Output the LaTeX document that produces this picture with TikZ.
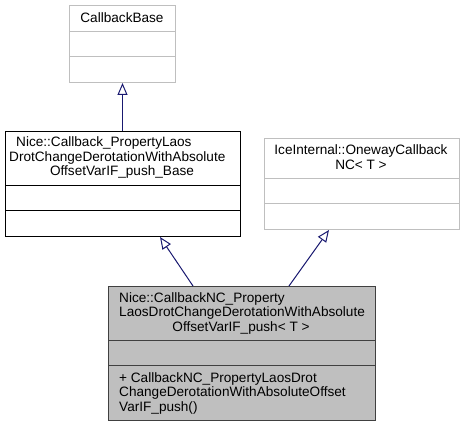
\documentclass[tikz,border=0pt]{standalone}
\usepackage{fontspec}
\setmainfont{Liberation Sans}
\usetikzlibrary{arrows.meta,calc}
\definecolor{edgeblue}{HTML}{191970}
\definecolor{grayfill}{HTML}{BFBFBF}
\definecolor{darkborder}{HTML}{404040}
\definecolor{lightborder}{HTML}{BFBFBF}
\begin{document}
\begin{tikzpicture}[x=1pt,y=-1pt,
  box/.style={draw, rectangle, inner sep=0pt, anchor=north west, line width=1pt},
  lightbox/.style={box, draw=lightborder, fill=white},
  blackbox/.style={box, draw=black, fill=white},
  graybox/.style={box, draw=darkborder, fill=grayfill},
  txt/.style={inner sep=0pt, font=\fontsize{13.6}{14.5}\selectfont},
  ltxt/.style={txt, anchor=base west},
  ctxt/.style={txt, anchor=base},
  inh/.style={draw=edgeblue, line width=1pt, -{Triangle[open, length=12pt, width=10pt, line width=1pt]}}
]
\useasboundingbox (0,0) rectangle (464,427);

% CallbackBase
\node[lightbox, minimum width=106pt, minimum height=77pt] (cb) at (69,5) {};
\draw[lightborder, line width=1pt] (69,31.5) -- (175,31.5) (69,56.5) -- (175,56.5);
\node[ctxt] (cbt) at (122,23) {CallbackBase};

% Base
\node[blackbox, minimum width=235pt, minimum height=105pt] (base) at (5,131) {};
\draw[black, line width=1pt] (5,186) -- (240,186) (5,211) -- (240,211);
\node[ltxt] (bt1) at (16,147) {Nice::Callback\_PropertyLaos};
\node[ltxt] (bt2) at (9,161.5) {DrotChangeDerotationWithAbsolute};
\node[ctxt] (bt3) at (122,176) {OffsetVarIF\_push\_Base};

% IceInternal
\node[lightbox, minimum width=195pt, minimum height=91pt] (ice) at (264,138) {};
\draw[lightborder, line width=1pt] (264,179) -- (459,179) (264,203.5) -- (459,203.5);
\node[ctxt] (it1) at (361,155) {IceInternal::OnewayCallback};
\node[ctxt] (it2) at (361,169.5) {NC< T >};

% CallbackNC
\node[graybox, minimum width=267pt, minimum height=134pt] (nc) at (108,286) {};
\draw[darkborder, line width=1pt] (108,341) -- (375,341) (108,366) -- (375,366);
\node[ltxt] (nt1) at (119,302.3) {Nice::CallbackNC\_Property};
\node[ltxt] (nt2) at (119,316.8) {LaosDrotChangeDerotationWithAbsolute};
\node[ctxt] (nt3) at (241,331.3) {OffsetVarIF\_push< T >};
\node[ltxt] (nm1) at (119,382.3) {+ CallbackNC\_PropertyLaosDrot};
\node[ltxt] (nm2) at (119,396.8) {ChangeDerotationWithAbsoluteOffset};
\node[ltxt] (nm3) at (119,411.3) {VarIF\_push()};

% inheritance edges
\draw[inh] (cb.south |- base.north) -- (cb.south);
\draw[inh] ([xshift=85pt]nc.north west) -- ([xshift=155pt]base.south west);
\draw[inh] ([xshift=181pt]nc.north west) -- ([xshift=65pt]ice.south west);
\end{tikzpicture}
\end{document}
